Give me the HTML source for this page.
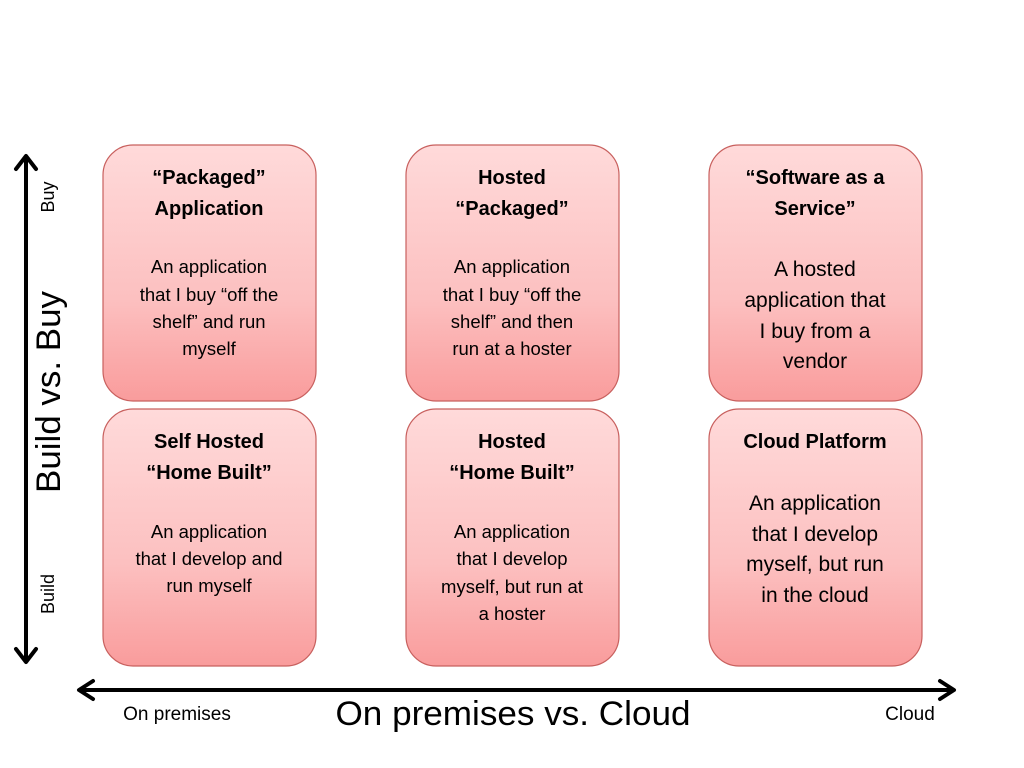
<!DOCTYPE html>
<html><head><style>body{margin:0;background:#fff}svg{display:block}</style></head><body>
<svg width="1024" height="768" viewBox="0 0 1024 768" xmlns="http://www.w3.org/2000/svg" font-family="Liberation Sans, sans-serif">
<defs>
<linearGradient id="g" x1="0" y1="0" x2="0" y2="1">
<stop offset="0" stop-color="#ffdada"/><stop offset="0.6" stop-color="#fcc0c0"/><stop offset="1" stop-color="#f99c9c"/>
</linearGradient>
</defs>
<g fill="url(#g)" stroke="#c8605e" stroke-width="1.2">
<rect x="103" y="145" width="213" height="256" rx="30"/>
<rect x="406" y="145" width="213" height="256" rx="30"/>
<rect x="709" y="145" width="213" height="256" rx="30"/>
<rect x="103" y="409" width="213" height="257" rx="30"/>
<rect x="406" y="409" width="213" height="257" rx="30"/>
<rect x="709" y="409" width="213" height="257" rx="30"/>
</g>
<g stroke="#000" stroke-width="4" fill="none" stroke-linecap="round" stroke-linejoin="round">
<line x1="26" y1="157" x2="26" y2="661"/>
<polyline points="16,169 26,156 36,169"/>
<polyline points="16,649 26,662 36,649"/>
<line x1="80" y1="690" x2="953" y2="690"/>
<polyline points="93,681 79,690 93,699"/>
<polyline points="940,681 954,690 940,699"/>
</g>
<g text-anchor="middle" fill="#000">
<g font-weight="bold" font-size="20">
<text x="209" y="184">“Packaged”</text><text x="209" y="215">Application</text>
<text x="512" y="184">Hosted</text><text x="512" y="215">“Packaged”</text>
<text x="815" y="184">“Software as a</text><text x="815" y="215">Service”</text>
<text x="209" y="448">Self Hosted</text><text x="209" y="479">“Home Built”</text>
<text x="512" y="448">Hosted</text><text x="512" y="479">“Home Built”</text>
<text x="815" y="448">Cloud Platform</text>
</g>
<g font-size="18.5">
<text x="209" y="273">An application</text><text x="209" y="301">that I buy “off the</text><text x="209" y="328">shelf” and run</text><text x="209" y="355">myself</text>
<text x="512" y="273">An application</text><text x="512" y="301">that I buy “off the</text><text x="512" y="328">shelf” and then</text><text x="512" y="355">run at a hoster</text>
<text x="209" y="538">An application</text><text x="209" y="565">that I develop and</text><text x="209" y="592">run myself</text>
<text x="512" y="538">An application</text><text x="512" y="565">that I develop</text><text x="512" y="593">myself, but run at</text><text x="512" y="620">a hoster</text>
</g>
<g font-size="21">
<text x="815" y="276">A hosted</text><text x="815" y="307">application that</text><text x="815" y="338">I buy from a</text><text x="815" y="368">vendor</text>
<text x="815" y="510">An application</text><text x="815" y="541">that I develop</text><text x="815" y="571">myself, but run</text><text x="815" y="602">in the cloud</text>
</g>
<text x="513" y="725" font-size="34" textLength="355" lengthAdjust="spacingAndGlyphs">On premises vs. Cloud</text>
<text x="177" y="720" font-size="19">On premises</text>
<text x="910" y="720" font-size="19">Cloud</text>
<text transform="translate(60,392) rotate(-90)" font-size="34" textLength="202" lengthAdjust="spacingAndGlyphs">Build vs. Buy</text>
<text transform="translate(54,197) rotate(-90)" font-size="18">Buy</text>
<text transform="translate(54,594) rotate(-90)" font-size="18">Build</text>
</g>
</svg>
</body></html>
